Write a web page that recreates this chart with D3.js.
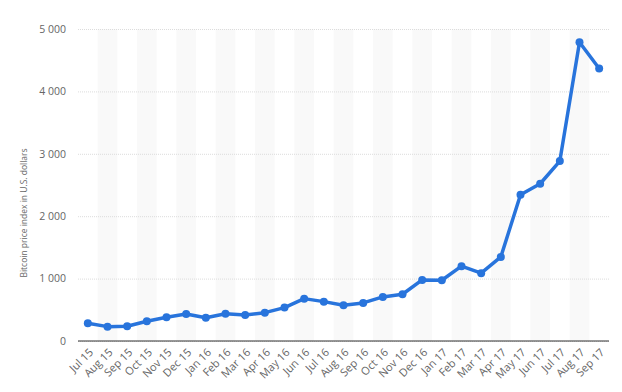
<!DOCTYPE html>
<html>
<head>
<meta charset="utf-8">
<title>Bitcoin price index</title>
<script src="https://cdnjs.cloudflare.com/ajax/libs/d3/7.8.5/d3.min.js"></script>
<style>
  body { margin: 0; background: #fff; }
  text { font-family: "Open Sans", "Liberation Sans", sans-serif; }
</style>
</head>
<body>
<svg id="svg" width="622" height="392"></svg>
<script>
const months = ['Jul 15','Aug 15','Sep 15','Oct 15','Nov 15','Dec 15','Jan 16','Feb 16','Mar 16','Apr 16','May 16','Jun 16',
  'Jul 16','Aug 16','Sep 16','Oct 16','Nov 16','Dec 16','Jan 17','Feb 17','Mar 17','Apr 17','May 17','Jun 17','Jul 17','Aug 17','Sep 17']
const prices = [284, 230, 236, 316, 380, 433, 374, 438, 417, 454, 535, 679,
  631, 573, 610, 706, 749, 979, 974, 1199, 1087, 1348, 2343, 2520, 2884, 4788, 4366]
const yTicks = [0, 1000, 2000, 3000, 4000, 5000]

const margin = {left: 78, right: 13, top: 29, bottom: 51}
const width = 622, height = 392
const svg = d3.select('#svg')

const x = d3.scaleBand().domain(months).range([margin.left, width - margin.right])
const y = d3.scaleLinear().domain([0, 5000]).range([height - margin.bottom, margin.top])
const cx = d => x(d) + x.bandwidth() / 2

// alternating column shading
svg.append('g').selectAll('rect')
  .data(months.filter((d, i) => i % 2 == 1))
  .join('rect')
  .attr('x', d => x(d))
  .attr('width', x.bandwidth())
  .attr('y', y(5000))
  .attr('height', y(0) - y(5000))
  .attr('fill', '#f9f9f9')

// gridlines + y labels
const yAxis = svg.append('g')
  .attr('transform', `translate(${margin.left},0)`)
  .call(d3.axisLeft(y).tickValues(yTicks)
    .tickSize(-(width - margin.left - margin.right))
    .tickPadding(12)
    .tickFormat(d => d3.format(',')(d).replace(',', ' ')))
yAxis.select('.domain').remove()
yAxis.selectAll('line')
  .attr('stroke', '#dcdcdc')
  .attr('stroke-dasharray', '1,1')
yAxis.selectAll('text')
  .attr('fill', '#666')
  .attr('font-size', 10.5)

// baseline
svg.append('line')
  .attr('x1', margin.left).attr('x2', width - margin.right)
  .attr('y1', y(0)).attr('y2', y(0))
  .attr('stroke', '#333').attr('stroke-width', 1.2)

// x labels
const xAxis = svg.append('g')
  .attr('transform', `translate(0,${y(0)})`)
  .call(d3.axisBottom(x).tickSize(0).tickPadding(0))
xAxis.select('.domain').remove()
xAxis.selectAll('text')
  .attr('fill', '#666')
  .attr('font-size', 11)
  .attr('text-anchor', 'end')
  .attr('dy', 0)
  .attr('transform', 'translate(6,12) rotate(-45)')

// y title
svg.append('text')
  .attr('transform', `translate(27,${(y(0) + y(5000)) / 2 + 28}) rotate(-90)`)
  .attr('text-anchor', 'middle')
  .attr('font-size', 8.5)
  .attr('fill', '#666')
  .text('Bitcoin price index in U.S. dollars')

// line
const line = d3.line().x((d, i) => cx(months[i])).y(d => y(d))
svg.append('path')
  .datum(prices)
  .attr('d', line)
  .attr('fill', 'none')
  .attr('stroke', '#2874dc')
  .attr('stroke-width', 3.5)
  .attr('stroke-linejoin', 'round')

svg.append('g').selectAll('circle')
  .data(prices)
  .join('circle')
  .attr('cx', (d, i) => cx(months[i]))
  .attr('cy', d => y(d))
  .attr('r', 4)
  .attr('fill', '#2874dc')
</script>
</body>
</html>
